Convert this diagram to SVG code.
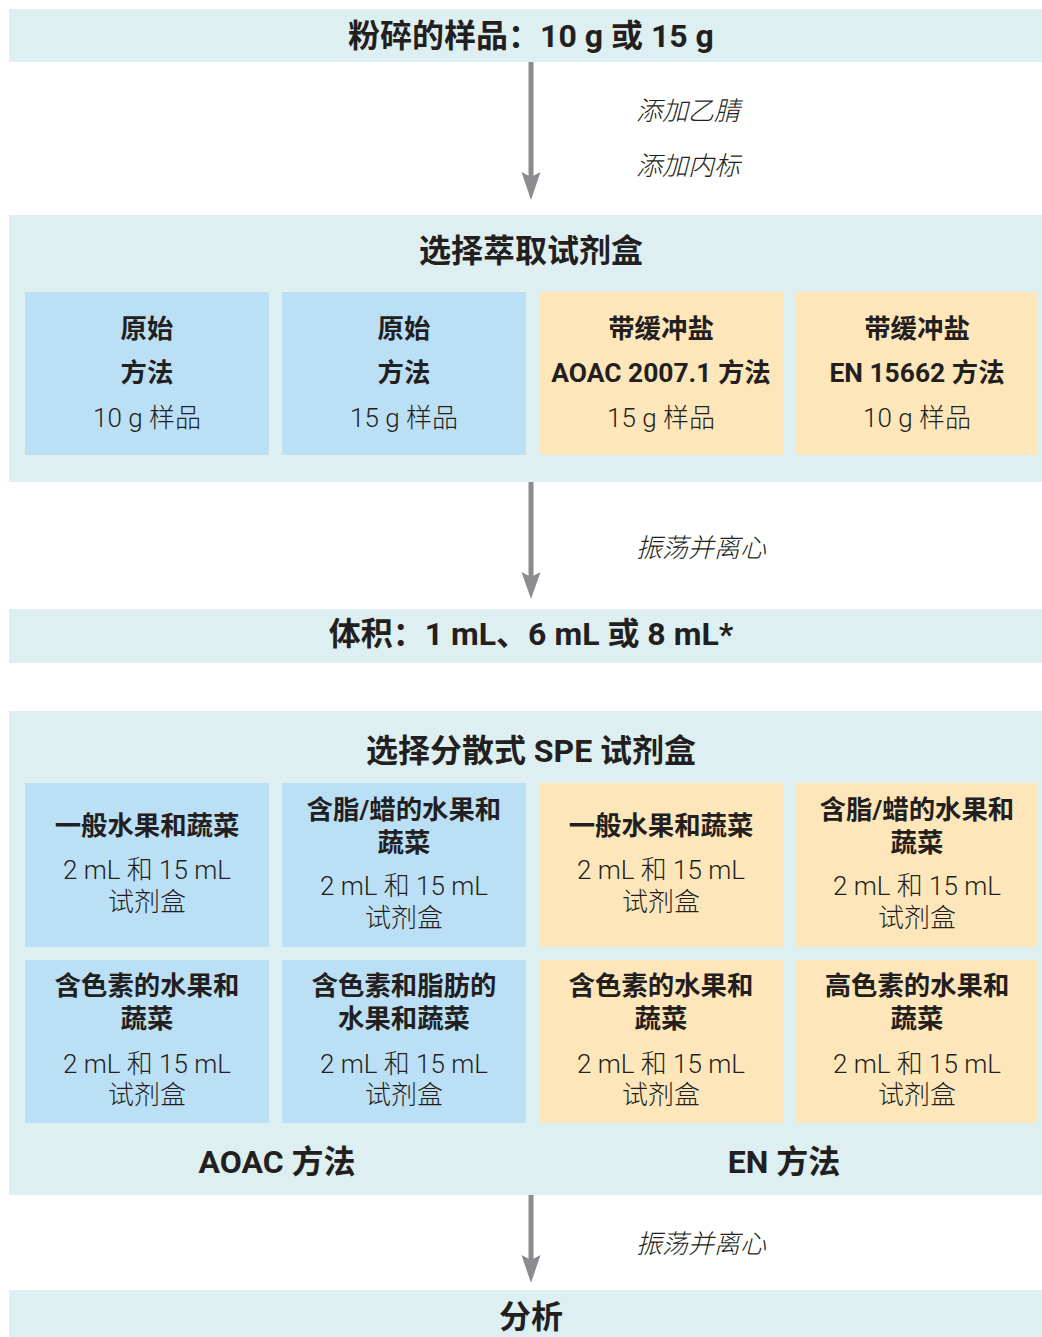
<svg xmlns="http://www.w3.org/2000/svg" width="1042" height="1337" viewBox="0 0 1042 1337">
<style>
.band{fill:#ddeff0}
.blue{fill:#bbe0f6}
.orange{fill:#fde6ba}
text{font-family:Roboto,"Noto Sans CJK SC",sans-serif;fill:#231f20;text-anchor:middle}
.t{font-size:32px;font-weight:700}
.b{font-size:26.4px;font-weight:700}
.r{font-size:26px;font-weight:300}
.lbl{font-size:26px;font-weight:300;font-style:italic;text-anchor:start}
.ln{stroke:#8c8c90;stroke-width:5;fill:none}
.hd{fill:#8c8c90}
</style>
<rect width="1042" height="1337" fill="#ffffff"/>
<g id="connectors">
<line class="ln" x1="531" y1="62" x2="531" y2="180"/>
<polygon class="hd" points="521.5,172 531,177 540.5,172 531,200"/>
<line class="ln" x1="531" y1="482" x2="531" y2="580"/>
<polygon class="hd" points="521.5,572 531,577 540.5,572 531,599"/>
<line class="ln" x1="531" y1="1195" x2="531" y2="1262"/>
<polygon class="hd" points="521.5,1255 531,1260 540.5,1255 531,1283"/>
<text class="lbl" x="636" y="120">添加乙腈</text>
<text class="lbl" x="636" y="175">添加内标</text>
<text class="lbl" x="636" y="557">振荡并离心</text>
<text class="lbl" x="636" y="1253">振荡并离心</text>
</g>
<g id="sample">
<rect class="band" x="9" y="9" width="1033" height="53"/>
<text class="t" x="531" y="47">粉碎的样品：10 g 或 15 g</text>
</g>
<g id="extraction">
<rect class="band" x="9" y="215" width="1033" height="267"/>
<text class="t" x="531" y="262">选择萃取试剂盒</text>
</g>
<g id="ext-orig-10">
<rect class="blue" x="25" y="292" width="244" height="163"/>
<text class="b" x="147" y="338">原始</text>
<text class="b" x="147" y="382">方法</text>
<text class="r" x="147" y="427">10 g 样品</text>
</g>
<g id="ext-orig-15">
<rect class="blue" x="282" y="292" width="244" height="163"/>
<text class="b" x="404" y="338">原始</text>
<text class="b" x="404" y="382">方法</text>
<text class="r" x="404" y="427">15 g 样品</text>
</g>
<g id="ext-aoac">
<rect class="orange" x="539" y="292" width="244" height="163"/>
<text class="b" x="661" y="338">带缓冲盐</text>
<text class="b" x="661" y="382">AOAC 2007.1 方法</text>
<text class="r" x="661" y="427">15 g 样品</text>
</g>
<g id="ext-en">
<rect class="orange" x="796" y="292" width="242" height="163"/>
<text class="b" x="917" y="338">带缓冲盐</text>
<text class="b" x="917" y="382">EN 15662 方法</text>
<text class="r" x="917" y="427">10 g 样品</text>
</g>
<g id="volume">
<rect class="band" x="9" y="609" width="1033" height="54"/>
<text class="t" x="531" y="645">体积：1 mL、6 mL 或 8 mL*</text>
</g>
<g id="dspe">
<rect class="band" x="9" y="711" width="1033" height="484"/>
<text class="t" x="531" y="762">选择分散式 SPE 试剂盒</text>
<text class="t" x="277" y="1173">AOAC 方法</text>
<text class="t" x="784" y="1173">EN 方法</text>
</g>
<g id="d-aoac-general">
<rect class="blue" x="25" y="783" width="244" height="164"/>
<text class="b" x="147" y="835">一般水果和蔬菜</text>
<text class="r" x="147" y="879">2 mL 和 15 mL</text>
<text class="r" x="147" y="911">试剂盒</text>
</g>
<g id="d-aoac-fat">
<rect class="blue" x="282" y="783" width="244" height="164"/>
<text class="b" x="404" y="819">含脂/蜡的水果和</text>
<text class="b" x="404" y="852">蔬菜</text>
<text class="r" x="404" y="895">2 mL 和 15 mL</text>
<text class="r" x="404" y="927">试剂盒</text>
</g>
<g id="d-en-general">
<rect class="orange" x="539" y="783" width="244" height="164"/>
<text class="b" x="661" y="835">一般水果和蔬菜</text>
<text class="r" x="661" y="879">2 mL 和 15 mL</text>
<text class="r" x="661" y="911">试剂盒</text>
</g>
<g id="d-en-fat">
<rect class="orange" x="796" y="783" width="242" height="164"/>
<text class="b" x="917" y="819">含脂/蜡的水果和</text>
<text class="b" x="917" y="852">蔬菜</text>
<text class="r" x="917" y="895">2 mL 和 15 mL</text>
<text class="r" x="917" y="927">试剂盒</text>
</g>
<g id="d-aoac-pig">
<rect class="blue" x="25" y="960" width="244" height="163"/>
<text class="b" x="147" y="995">含色素的水果和</text>
<text class="b" x="147" y="1028">蔬菜</text>
<text class="r" x="147" y="1073">2 mL 和 15 mL</text>
<text class="r" x="147" y="1104">试剂盒</text>
</g>
<g id="d-aoac-pigfat">
<rect class="blue" x="282" y="960" width="244" height="163"/>
<text class="b" x="404" y="995">含色素和脂肪的</text>
<text class="b" x="404" y="1028">水果和蔬菜</text>
<text class="r" x="404" y="1073">2 mL 和 15 mL</text>
<text class="r" x="404" y="1104">试剂盒</text>
</g>
<g id="d-en-pig">
<rect class="orange" x="539" y="960" width="244" height="163"/>
<text class="b" x="661" y="995">含色素的水果和</text>
<text class="b" x="661" y="1028">蔬菜</text>
<text class="r" x="661" y="1073">2 mL 和 15 mL</text>
<text class="r" x="661" y="1104">试剂盒</text>
</g>
<g id="d-en-highpig">
<rect class="orange" x="796" y="960" width="242" height="163"/>
<text class="b" x="917" y="995">高色素的水果和</text>
<text class="b" x="917" y="1028">蔬菜</text>
<text class="r" x="917" y="1073">2 mL 和 15 mL</text>
<text class="r" x="917" y="1104">试剂盒</text>
</g>
<g id="analysis">
<rect class="band" x="9" y="1290" width="1033" height="47"/>
<text class="t" x="531" y="1328">分析</text>
</g>
</svg>
